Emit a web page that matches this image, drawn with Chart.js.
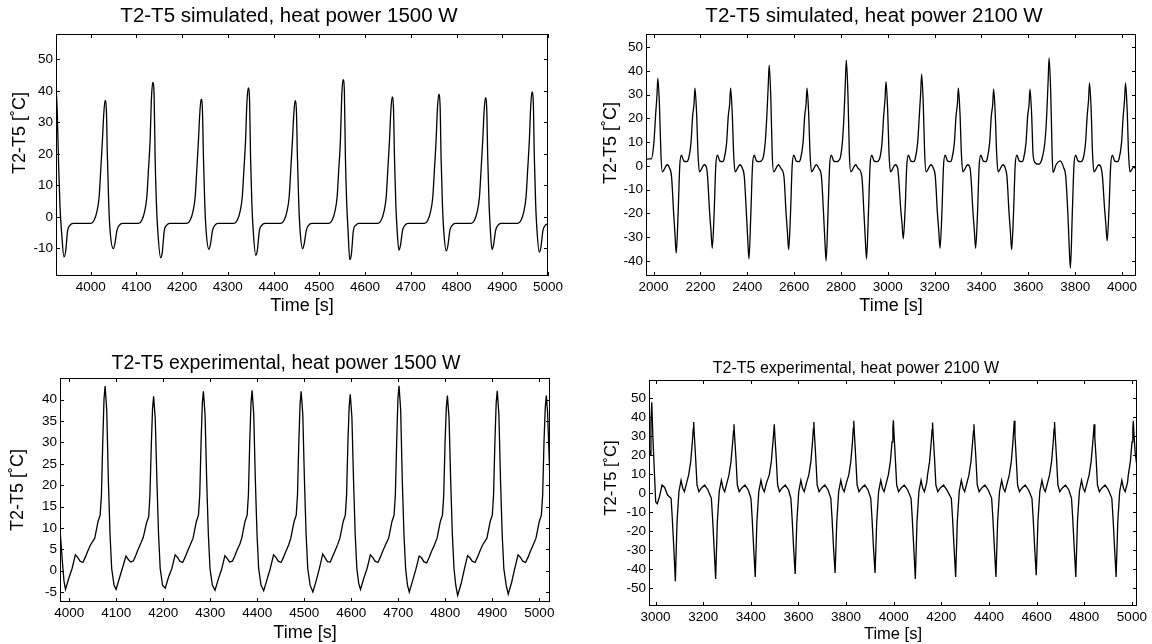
<!DOCTYPE html>
<html>
<head>
<meta charset="utf-8">
<script src="https://cdn.jsdelivr.net/npm/chart.js@4/dist/chart.umd.min.js"></script>
<style>
  html, body { margin: 0; padding: 0; background: #fff; overflow: hidden; }
  body { width: 1152px; height: 644px; position: relative; }
  canvas { position: absolute; }
</style>
</head>
<body>
<canvas id="simLow" width="578" height="322" style="left:0;top:0"></canvas>
<canvas id="simHigh" width="596" height="322" style="left:576px;top:0"></canvas>
<canvas id="expLow" width="572" height="322" style="left:0;top:322px"></canvas>
<canvas id="expHigh" width="594" height="322" style="left:559px;top:322px"></canvas>
<script>
// --- values (time in s, T2-T5 in °C) ---
var simTime1500 = [
  3924.2, 3927, 3930, 3933, 3936.5, 3941.7, 3945.2, 3949.7, 3954.7, 3961.7,
  4000.5, 4007.5, 4013.5, 4018.5, 4022.0, 4025.7, 4028.6, 4031.5, 4034.4, 4036.6, 4039.5, 4042.4, 4049.5, 4053.0, 4057.5, 4062.5, 4069.5,
  4104.8, 4111.8, 4117.8, 4122.8, 4126.3, 4130.0, 4132.9, 4135.8, 4138.7, 4140.9, 4143.8, 4146.7, 4153.0, 4156.5, 4161.0, 4166.0, 4173.0,
  4210.5, 4217.5, 4223.5, 4228.5, 4232.0, 4235.7, 4238.6, 4241.5, 4244.4, 4246.6, 4249.5, 4252.4, 4258.5, 4262.0, 4266.5, 4271.5, 4278.5,
  4313.5, 4320.5, 4326.5, 4331.5, 4335.0, 4338.7, 4341.6, 4344.5, 4347.4, 4349.6, 4352.5, 4355.4, 4361.0, 4364.5, 4369.0, 4374.0, 4381.0,
  4416.0, 4423.0, 4429.0, 4434.0, 4437.5, 4441.2, 4444.1, 4447.0, 4449.9, 4452.1, 4455.0, 4457.9, 4463.5, 4467.0, 4471.5, 4476.5, 4483.5,
  4520.9, 4527.9, 4533.9, 4538.9, 4542.4, 4546.1, 4549.0, 4551.9, 4554.8, 4557.0, 4559.9, 4562.8, 4566.5, 4570.0, 4574.5, 4579.5, 4586.5,
  4628.2, 4635.2, 4641.2, 4646.2, 4649.7, 4653.4, 4656.3, 4659.2, 4662.1, 4664.3, 4667.2, 4670.1, 4674.0, 4677.5, 4682.0, 4687.0, 4694.0,
  4730.1, 4737.1, 4743.1, 4748.1, 4751.6, 4755.3, 4758.2, 4761.1, 4764.0, 4766.2, 4769.1, 4772.0, 4777.5, 4781.0, 4785.5, 4790.5, 4797.5,
  4832.1, 4839.1, 4845.1, 4850.1, 4853.6, 4857.3, 4860.2, 4863.1, 4866.0, 4868.2, 4871.1, 4874.0, 4877.5, 4881.0, 4885.5, 4890.5, 4897.5,
  4934.0, 4941.0, 4947.0, 4952.0, 4955.5, 4959.2, 4962.1, 4965.0, 4967.9, 4970.1, 4973.0, 4975.9, 4981.0, 4984.5, 4989.0, 4994.0, 5000.0
];
var simTemp1500 = [
  41.8, 33, 16, 3, -5, -12.7, -11.1, -4.3, -2.7, -2.1,
  -2.1, -1.1, 1.6, 6.3, 14.8, 24.3, 32.6, 37.0, 33.7, 19, 4.2, -4.3, -10.1, -8.5, -4.3, -2.7, -2.1,
  -2.1, -1.1, 1.6, 6.3, 14.8, 24.3, 37.6, 42.7, 38.9, 19, 4.2, -4.3, -13.0, -11.4, -4.3, -2.7, -2.1,
  -2.1, -1.1, 1.6, 6.3, 14.8, 24.3, 32.9, 37.4, 34.0, 19, 4.2, -4.3, -10.3, -8.7, -4.3, -2.7, -2.1,
  -2.1, -1.1, 1.6, 6.3, 14.8, 24.3, 36.1, 41.0, 37.3, 19, 4.2, -4.3, -12.2, -10.6, -4.3, -2.7, -2.1,
  -2.1, -1.1, 1.6, 6.3, 14.8, 24.3, 32.5, 36.9, 33.6, 19, 4.2, -4.3, -10.1, -8.5, -4.3, -2.7, -2.1,
  -2.1, -1.1, 1.6, 6.3, 14.8, 24.3, 38.4, 43.6, 39.7, 19, 4.2, -4.3, -13.6, -12.0, -4.3, -2.7, -2.1,
  -2.1, -1.1, 1.6, 6.3, 14.8, 24.3, 33.5, 38.1, 34.7, 19, 4.2, -4.3, -10.6, -9.0, -4.3, -2.7, -2.1,
  -2.1, -1.1, 1.6, 6.3, 14.8, 24.3, 34.3, 39.0, 35.5, 19, 4.2, -4.3, -10.8, -9.2, -4.3, -2.7, -2.1,
  -2.1, -1.1, 1.6, 6.3, 14.8, 24.3, 33.4, 37.9, 34.5, 19, 4.2, -4.3, -10.4, -8.8, -4.3, -2.7, -2.1,
  -2.1, -1.1, 1.6, 6.3, 14.8, 24.3, 34.9, 39.7, 36.1, 19, 4.2, -4.3, -11.2, -9.6, -4.3, -2.7, -2.2
];

var simTime2100 = [
  1967.5, 1982, 1990.2, 2001.2, 2008.2, 2014.2, 2018.2,
  2025.2, 2031.2, 2037.2, 2058.2, 2068.2, 2076.6, 2085.6, 2091.6, 2096.6, 2104.6, 2111.6, 2118.6, 2129.6, 2140.6, 2148.6, 2159.6, 2166.6, 2172.6, 2176.6,
  2183.6, 2189.6, 2195.6, 2216.6, 2226.6, 2230.4, 2239.4, 2245.4, 2250.4, 2258.4, 2265.4, 2272.4, 2283.4, 2294.4, 2300.8, 2311.8, 2318.8, 2324.8, 2328.8,
  2335.8, 2341.8, 2347.8, 2368.8, 2378.8, 2387.2, 2396.2, 2402.2, 2407.2, 2415.2, 2422.2, 2429.2, 2440.2, 2451.2, 2465.5, 2476.5, 2483.5, 2489.5, 2493.5,
  2500.5, 2506.5, 2512.5, 2533.5, 2543.5, 2556.6, 2565.6, 2571.6, 2576.6, 2584.6, 2591.6, 2598.6, 2609.6, 2620.6, 2627.1, 2638.1, 2645.1, 2651.1, 2655.1,
  2662.1, 2668.1, 2674.1, 2695.1, 2705.1, 2716.6, 2725.6, 2731.6, 2736.6, 2744.6, 2751.6, 2758.6, 2769.6, 2780.6, 2794.9, 2805.9, 2812.9, 2818.9, 2822.9,
  2829.9, 2835.9, 2841.9, 2862.9, 2872.9, 2889.2, 2898.2, 2904.2, 2909.2, 2917.2, 2924.2, 2931.2, 2942.2, 2953.2, 2964.3, 2975.3, 2982.3, 2988.3, 2992.3,
  2999.3, 3005.3, 3011.3, 3032.3, 3042.3, 3046.0, 3055.0, 3061.0, 3066.0, 3074.0, 3081.0, 3088.0, 3099.0, 3110.0, 3116.5, 3127.5, 3134.5, 3140.5, 3144.5,
  3151.5, 3157.5, 3163.5, 3184.5, 3194.5, 3202.9, 3211.9, 3217.9, 3222.9, 3230.9, 3237.9, 3244.9, 3255.9, 3266.9, 3273.3, 3284.3, 3291.3, 3297.3, 3301.3,
  3308.3, 3314.3, 3320.3, 3341.3, 3351.3, 3355.0, 3364.0, 3370.0, 3375.0, 3383.0, 3390.0, 3397.0, 3408.0, 3419.0, 3423.9, 3434.9, 3441.9, 3447.9, 3451.9,
  3458.9, 3464.9, 3470.9, 3491.9, 3501.9, 3508.8, 3517.8, 3523.8, 3528.8, 3536.8, 3543.8, 3550.8, 3561.8, 3572.8, 3579.2, 3590.2, 3597.2, 3603.2, 3607.2,
  3614.2, 3620.2, 3628.0, 3643.6, 3657.8, 3671.8, 3678.8, 3684.8, 3688.8,
  3695.8, 3701.8, 3705.3, 3719.5, 3736.6, 3750.8, 3759.8, 3768.8, 3774.8, 3779.8, 3787.8, 3794.8, 3801.8, 3812.8, 3823.8, 3833.3, 3844.3, 3851.3, 3857.3, 3861.3,
  3868.3, 3874.3, 3880.3, 3901.3, 3911.3, 3916.6, 3925.6, 3931.6, 3936.6, 3944.6, 3951.6, 3958.6, 3969.6, 3980.6, 3987.1, 3998.1, 4005.1, 4011.1, 4015.1,
  4022.1, 4028.1, 4034.1, 4050, 4059.8
];
var simTemp2100 = [
  2.8, 3.0, 3.0, 9.8, 21, 29.6, 37.0,
  24.8, 5, -2.5, 0.5, -1, -4.5, -20, -29.4, -36.8, -20, 0, 4.5, 2, 1.8, 2.8, 9.8, 21, 26.2, 32.8,
  22, 5, -2.5, 0.5, -1, -4.5, -20, -27.8, -34.7, -20, 0, 4.5, 2, 1.8, 2.8, 9.8, 21, 26.2, 32.8,
  22, 5, -2.5, 0.5, -1, -4.5, -20, -31.4, -39.2, -20, 0, 4.5, 2, 1.8, 2.8, 9.8, 21, 34, 42.5,
  28.5, 5, -2.5, 0.5, -1, -4.5, -20, -28.2, -35.3, -20, 0, 4.5, 2, 1.8, 2.8, 9.8, 21, 26.2, 32.8,
  22, 5, -2.5, 0.5, -1, -4.5, -20, -32, -40, -20, 0, 4.5, 2, 1.8, 2.8, 9.8, 21, 35.7, 44.6,
  29.9, 5, -2.5, 0.5, -1, -4.5, -20, -31.4, -39.2, -20, 0, 4.5, 2, 1.8, 2.8, 9.8, 21, 28.4, 35.5,
  23.8, 5, -2.5, 0.5, -1, -4.5, -18, -24.6, -30.7, -18, 0, 4.5, 2, 1.8, 2.8, 9.8, 21, 31, 38.7,
  25.9, 5, -2.5, 0.5, -1, -4.5, -20, -27.8, -34.7, -20, 0, 4.5, 2, 1.8, 2.8, 9.8, 21, 26.2, 32.8,
  22, 5, -2.5, 0.5, -1, -4.5, -20, -27.8, -34.7, -20, 0, 4.5, 2, 1.8, 2.8, 9.8, 21, 25.9, 32.4,
  21.7, 5, -2.5, 0.5, -1, -4.5, -20, -28.2, -35.3, -20, 0, 4.5, 2, 1.8, 2.8, 9.8, 21, 25.9, 32.4,
  21.7, 5, 1.5, 0.7, 2.8, 11, 22, 36.4, 45.5,
  30.5, 5, -2.8, 0.7, 2.1, -0.7, -4.5, -20, -34.5, -43.1, -20, 0, 4.5, 2, 1.8, 2.8, 9.8, 21, 28, 35.0,
  23.5, 5, -2.5, 0.5, -1, -4.5, -18, -25.3, -31.6, -18, 0, 4.5, 2, 1.8, 2.8, 9.8, 21, 28, 35.0,
  23.5, 5, -2.5, -0.5, -1.2
];

var expTime1500 = [
  3980.5, 3983, 3986, 3989, 3992.2,
  3999.2, 4006.2, 4013.2, 4018.2, 4023.2, 4029.2, 4034.2, 4039.2, 4045.2, 4054.4, 4061.4, 4065.9, 4068.6, 4071.4, 4074.1, 4076.4, 4079.9, 4083.4, 4086.9, 4090.4, 4095.4, 4099.8,
  4106.8, 4113.8, 4120.8, 4125.8, 4130.8, 4136.8, 4141.8, 4146.8, 4152.8, 4157.6, 4164.6, 4169.1, 4171.8, 4174.6, 4177.3, 4179.6, 4183.1, 4186.6, 4190.1, 4193.6, 4198.6, 4204.4,
  4211.4, 4218.4, 4225.4, 4230.4, 4235.4, 4241.4, 4246.4, 4251.4, 4257.4, 4263.5, 4270.5, 4275.0, 4277.7, 4280.5, 4283.2, 4285.5, 4289.0, 4292.5, 4296.0, 4299.5, 4304.5, 4310.2,
  4317.2, 4324.2, 4331.2, 4336.2, 4341.2, 4347.2, 4352.2, 4357.2, 4363.2, 4367.0, 4374.0, 4378.5, 4381.2, 4384.0, 4386.7, 4389.0, 4392.5, 4396.0, 4399.5, 4403.0, 4408.0, 4413.7,
  4420.7, 4427.7, 4434.7, 4439.7, 4444.7, 4450.7, 4455.7, 4460.7, 4466.7, 4471.4, 4478.4, 4482.9, 4485.6, 4488.4, 4491.1, 4493.4, 4496.9, 4500.4, 4503.9, 4507.4, 4512.4, 4518.3,
  4525.3, 4532.3, 4539.3, 4544.3, 4549.3, 4555.3, 4560.3, 4565.3, 4571.3, 4575.8, 4582.8, 4587.3, 4590.0, 4592.8, 4595.5, 4597.8, 4601.3, 4604.8, 4608.3, 4611.8, 4615.8, 4619.6,
  4626.6, 4633.6, 4640.6, 4645.6, 4650.6, 4656.6, 4661.6, 4666.6, 4672.6, 4679.5, 4686.5, 4691.0, 4693.7, 4696.5, 4699.2, 4701.5, 4705.0, 4708.5, 4712.0, 4715.5, 4719.5, 4723.3,
  4730.3, 4737.3, 4744.3, 4749.3, 4754.3, 4760.3, 4765.3, 4770.3, 4776.3, 4782.4, 4789.4, 4793.9, 4796.6, 4799.4, 4802.1, 4804.4, 4807.9, 4811.4, 4814.9, 4818.4, 4822.4, 4826.2,
  4833.2, 4840.2, 4847.2, 4852.2, 4857.2, 4863.2, 4868.2, 4873.2, 4879.2, 4888.4, 4895.4, 4899.9, 4902.6, 4905.4, 4908.1, 4910.4, 4913.9, 4917.4, 4920.9, 4924.4, 4929.4, 4933.7,
  4940.7, 4947.7, 4954.7, 4959.7, 4964.7, 4970.7, 4975.7, 4980.7, 4986.7, 4992.8, 4999.8, 5004.3, 5007.0, 5009.8, 5012.5, 5014.8, 5017.5, 5020.0, 5022.6
];
var expTemp1500 = [
  9.5, 6, 1.5, -2.5, -4.4,
  -1.8, 0.5, 3.7, 3.1, 2.2, 1.9, 3.1, 4.5, 6.0, 7.6, 11.5, 13, 17.7, 30, 40.2, 43.2, 37.6, 21, 8.5, 0.5, -3.4, -4.4,
  -1.8, 0.8, 3.4, 2.6, 2.0, 2.3, 3.6, 5.0, 6.5, 7.8, 11.2, 12.6, 17.7, 29, 37.9, 40.8, 35.5, 21, 8.5, 0.5, -3.4, -4.1,
  -1.5, 0.5, 3.7, 3.1, 2.2, 1.9, 3.1, 4.5, 6.0, 7.6, 11.5, 13, 17.7, 30, 39.1, 42.0, 36.5, 21, 8.5, 0.5, -3.4, -4.6,
  -2.0, 0.3, 3.5, 2.8, 2.0, 2.2, 3.4, 4.8, 6.3, 7.6, 11.5, 13, 17.7, 30, 39.2, 42.2, 36.7, 21, 8.5, 0.5, -3.4, -4.7,
  -2.1, 0.5, 3.7, 3.1, 2.2, 1.9, 3.1, 4.5, 6.0, 7.6, 11.5, 13, 17.7, 30, 39.1, 42.0, 36.5, 21, 8.5, 0.5, -3.4, -5.0,
  -2.4, 0.6, 3.9, 3.0, 2.1, 2.0, 3.3, 4.6, 6.2, 7.6, 11.5, 13, 17.7, 30, 38.4, 41.3, 35.9, 21, 8.5, 0.5, -3.0, -4.4,
  -1.8, 0.5, 3.7, 3.1, 2.2, 1.9, 3.1, 4.5, 6.0, 7.6, 11.5, 13, 17.7, 30, 40.3, 43.3, 37.7, 21, 8.5, 0.5, -3.4, -5.0,
  -2.4, 0.3, 3.4, 3.0, 2.1, 1.8, 3.0, 4.4, 5.9, 7.6, 11.5, 13, 17.7, 30, 38.1, 41.0, 35.7, 21, 8.5, 0.5, -3.6, -5.8,
  -3.2, 0.2, 3.5, 3.0, 2.2, 1.9, 3.1, 4.5, 6.0, 7.6, 11.5, 13, 17.7, 30, 39.2, 42.1, 36.6, 21, 8.5, 0.5, -3.4, -5.5,
  -2.9, 0.5, 3.7, 3.1, 2.2, 1.9, 3.1, 4.5, 6.0, 7.6, 11.5, 13, 17.7, 30, 38.1, 41.0, 37, 29, 21
];

var expTime2100 = [
  2972.3, 2977, 2980.5, 2984, 2988.5, 2994.5, 3000.5, 3007, 3016, 3027, 3038, 3050, 3065, 3070, 3077, 3083.0,
  3090.0, 3098.0, 3107.0, 3114.0, 3121.0, 3131.0, 3138.9, 3147.4, 3154.4, 3157.9, 3159.9, 3162.9, 3167.9, 3173.9, 3181.9, 3191.9, 3205.9, 3219.9, 3234.2, 3239.2, 3246.2, 3252.2,
  3259.2, 3267.2, 3276.2, 3283.2, 3290.2, 3300.2, 3308.2, 3316.7, 3323.7, 3327.2, 3329.2, 3332.2, 3337.2, 3343.2, 3351.2, 3361.2, 3375.2, 3389.2, 3400.4, 3405.4, 3412.4, 3418.4,
  3425.4, 3433.4, 3442.4, 3449.4, 3456.4, 3466.4, 3477.4, 3485.9, 3492.9, 3496.4, 3498.4, 3501.4, 3506.4, 3512.4, 3520.4, 3530.4, 3544.4, 3558.4, 3568.1, 3573.1, 3580.1, 3586.1,
  3593.1, 3601.1, 3610.1, 3617.1, 3624.1, 3634.1, 3643.5, 3652.0, 3659.0, 3662.5, 3664.5, 3667.5, 3672.5, 3678.5, 3686.5, 3696.5, 3710.5, 3724.5, 3735.8, 3740.8, 3747.8, 3753.8,
  3760.8, 3768.8, 3777.8, 3784.8, 3791.8, 3801.8, 3811.2, 3819.7, 3826.7, 3830.2, 3832.2, 3835.2, 3840.2, 3846.2, 3854.2, 3864.2, 3878.2, 3892.2, 3903.5, 3908.5, 3915.5, 3921.5,
  3928.5, 3936.5, 3945.5, 3952.5, 3959.5, 3969.5, 3977.4, 3985.9, 3992.9, 3996.4, 3998.4, 4001.4, 4006.4, 4012.4, 4020.4, 4030.4, 4044.4, 4058.4, 4072.7, 4077.7, 4084.7, 4090.7,
  4097.7, 4105.7, 4114.7, 4121.7, 4128.7, 4138.7, 4142.0, 4150.5, 4157.5, 4161.0, 4163.0, 4166.0, 4171.0, 4177.0, 4185.0, 4195.0, 4209.0, 4223.0, 4241.9, 4246.9, 4253.9, 4259.9,
  4266.9, 4274.9, 4283.9, 4290.9, 4297.9, 4307.9, 4315.8, 4324.3, 4331.3, 4334.8, 4336.8, 4339.8, 4344.8, 4350.8, 4358.8, 4368.8, 4382.8, 4396.8, 4411.2, 4416.2, 4423.2, 4429.2,
  4436.2, 4444.2, 4453.2, 4460.2, 4467.2, 4477.2, 4485.1, 4493.6, 4500.6, 4504.1, 4506.1, 4509.1, 4514.1, 4520.1, 4528.1, 4538.1, 4552.1, 4566.1, 4580.4, 4585.4, 4592.4, 4598.4,
  4605.4, 4613.4, 4622.4, 4629.4, 4636.4, 4646.4, 4654.3, 4662.8, 4669.8, 4673.3, 4675.3, 4678.3, 4683.3, 4689.3, 4697.3, 4707.3, 4721.3, 4735.3, 4746.5, 4751.5, 4758.5, 4764.5,
  4771.5, 4779.5, 4788.5, 4795.5, 4802.5, 4812.5, 4820.5, 4829.0, 4836.0, 4839.5, 4841.5, 4844.5, 4849.5, 4855.5, 4863.5, 4873.5, 4887.5, 4901.5, 4915.8, 4920.8, 4927.8, 4933.8,
  4940.8, 4948.8, 4957.8, 4964.8, 4971.8, 4981.8, 4985.1, 4993.6, 5000.6, 5004.1, 5006.1, 5009.1, 5014.1, 5021.5
];
var expTemp2100 = [
  24.7, 20, 38, 47.9, 30, 12.3, -4.6, -5.5, -2, 4.3, 3, -1, -2.7, -13, -30, -46.4,
  -15, 0.8, 6.8, 2.6, 0.8, 5.7, 9.6, 16.6, 27, 33.8, 37.5, 30, 19, 4.3, 0.8, 2.6, 4.3, 1.7, -2.7, -13, -30, -45.2,
  -15, 0.8, 6.8, 2.6, 0.8, 5.7, 9.6, 16.6, 27, 32.7, 36.3, 29, 19, 4.3, 0.8, 2.6, 4.3, 1.7, -2.7, -13, -30, -44.1,
  -15, 0.8, 6.8, 2.6, 0.8, 5.7, 9.6, 16.6, 27, 32.7, 36.3, 29, 19, 4.3, 0.8, 2.6, 4.3, 1.7, -2.7, -13, -30, -42.5,
  -15, 0.8, 6.8, 2.6, 0.8, 5.7, 9.6, 16.6, 27, 33.8, 37.5, 30, 19, 4.3, 0.8, 2.6, 4.3, 1.7, -2.7, -13, -30, -42,
  -15, 0.8, 6.8, 2.6, 0.8, 5.7, 9.6, 16.6, 27, 34.3, 38.1, 30.5, 19, 4.3, 0.8, 2.6, 4.3, 1.7, -2.7, -13, -30, -42,
  -15, 0.8, 6.8, 2.6, 0.8, 5.7, 9.6, 16.6, 27, 34.6, 38.4, 30.7, 19, 4.3, 0.8, 2.6, 4.3, 1.7, -2.7, -13, -30, -45.2,
  -15, 0.8, 6.8, 2.6, 0.8, 5.7, 9.6, 16.6, 27, 33.5, 37.2, 29.8, 19, 4.3, 0.8, 2.6, 4.3, 1.7, -2.7, -13, -30, -44.1,
  -15, 0.8, 6.8, 2.6, 0.8, 5.7, 9.6, 16.6, 27, 32.7, 36.3, 29, 19, 4.3, 0.8, 2.6, 4.3, 1.7, -2.7, -13, -30, -44.1,
  -15, 0.8, 6.8, 2.6, 0.8, 5.7, 9.6, 16.6, 27, 34.3, 38.1, 30.5, 19, 4.3, 0.8, 2.6, 4.3, 1.7, -2.7, -13, -30, -43.2,
  -15, 0.8, 6.8, 2.6, 0.8, 5.7, 9.6, 16.6, 27, 33.8, 37.5, 30, 19, 4.3, 0.8, 2.6, 4.3, 1.7, -2.7, -13, -30, -44.1,
  -15, 0.8, 6.8, 2.6, 0.8, 5.7, 9.6, 16.6, 27, 32.7, 36.3, 29, 19, 4.3, 0.8, 2.6, 4.3, 1.7, -2.7, -13, -30, -44.1,
  -15, 0.8, 6.8, 2.6, 0.8, 5.7, 9.6, 16.6, 27, 34.3, 38.1, 30.5, 21, 14
];

// tick values shown on the axes
var xTicksLow = [4000, 4100, 4200, 4300, 4400, 4500, 4600, 4700, 4800, 4900, 5000];
var xTicksSimHigh = [2000, 2200, 2400, 2600, 2800, 3000, 3200, 3400, 3600, 3800, 4000];
var xTicksExpHigh = [3000, 3200, 3400, 3600, 3800, 4000, 4200, 4400, 4600, 4800, 5000];
var yTicksSimLow = [-10, 0, 10, 20, 30, 40, 50];
var yTicksSimHigh = [-40, -30, -20, -10, 0, 10, 20, 30, 40, 50];
var yTicksExpLow = [-5, 0, 5, 10, 15, 20, 25, 30, 35, 40];
var yTicksExpHigh = [-50, -40, -30, -20, -10, 0, 10, 20, 30, 40, 50];

var FONT = "'Liberation Sans', Arial, Helvetica, sans-serif";
Chart.defaults.font.family = FONT;
Chart.defaults.color = '#000';

// box around the plot with inward ticks on all four sides, plus the y label
var frameTicks = {
  id: 'frameTicks',
  afterDatasetsDraw: function (chart, args, o) {
    var ctx = chart.ctx, a = chart.chartArea, x = chart.scales.x, y = chart.scales.y;
    ctx.save();
    ctx.strokeStyle = '#000';
    ctx.lineWidth = 1;
    ctx.strokeRect(a.left + 0.5, a.top + 0.5, a.right - a.left - 1, a.bottom - a.top - 1);
    ctx.beginPath();
    x.ticks.forEach(function (t) {
      var px = Math.round(x.getPixelForValue(t.value)) + 0.5;
      ctx.moveTo(px, a.top); ctx.lineTo(px, a.top + 4);
      ctx.moveTo(px, a.bottom); ctx.lineTo(px, a.bottom - 4);
    });
    y.ticks.forEach(function (t) {
      var py = Math.round(y.getPixelForValue(t.value)) + 0.5;
      ctx.moveTo(a.left, py); ctx.lineTo(a.left + 4, py);
      ctx.moveTo(a.right, py); ctx.lineTo(a.right - 4, py);
    });
    ctx.stroke();
    ctx.translate(o.labelX, o.labelY);
    ctx.rotate(-Math.PI / 2);
    ctx.font = o.labelSize + 'px ' + FONT;
    ctx.fillStyle = '#000';
    ctx.textAlign = 'center';
    ctx.textBaseline = 'middle';
    ctx.fillText(o.label, 0, 0);
    ctx.restore();
  }
};

function panel(id, p) {
  var pts = p.t.map(function (t, i) { return { x: t, y: p.v[i] }; });
  new Chart(document.getElementById(id), {
    type: 'line',
    data: {
      datasets: [{
        data: pts,
        borderColor: '#000',
        borderWidth: 1.3,
        pointRadius: 0,
        fill: false,
        tension: p.smooth ? 0.4 : 0,
        cubicInterpolationMode: p.smooth ? 'monotone' : 'default'
      }]
    },
    options: {
      responsive: false,
      animation: false,
      events: [],
      layout: { padding: 0 },
      plugins: {
        legend: { display: false },
        tooltip: { enabled: false },
        title: {
          display: true,
          text: p.title,
          font: { size: p.titleSize, weight: 'normal' },
          padding: { top: p.titleTop, bottom: p.titleBottom }
        },
        frameTicks: { label: 'T2-T5 [˚C]', labelX: p.labelX, labelY: p.labelY, labelSize: p.labelSize }
      },
      scales: {
        x: {
          type: 'linear',
          min: p.xMin, max: p.xMax,
          grid: { display: false, drawTicks: false },
          border: { display: false },
          afterBuildTicks: function (s) { s.ticks = p.xTicks.map(function (v) { return { value: v }; }); },
          afterFit: function (s) { s.height = p.xAxisH; },
          ticks: { autoSkip: false, maxRotation: 0, padding: 3, font: { size: 13.5 }, callback: function (v) { return String(v); } },
          title: { display: true, text: 'Time [s]', font: { size: p.labelSize }, padding: { top: 0, bottom: p.xTitleBottom } }
        },
        y: {
          type: 'linear',
          min: p.yMin, max: p.yMax,
          grid: { display: false, drawTicks: false },
          border: { display: false },
          afterBuildTicks: function (s) { s.ticks = p.yTicks.map(function (v) { return { value: v }; }); },
          afterFit: function (s) { s.width = p.yAxisW; },
          ticks: { autoSkip: false, padding: 3, font: { size: 13.5 }, callback: function (v) { return String(v); } }
        },
        // empty right-hand axis: only reserves the margin right of the box
        yRight: {
          position: 'right',
          grid: { display: false, drawTicks: false },
          border: { display: false },
          ticks: { display: false },
          afterFit: function (s) { s.width = p.padRight; }
        }
      }
    },
    plugins: [frameTicks]
  });
}

panel('simLow', {
  t: simTime1500, v: simTemp1500, smooth: true,
  title: 'T2-T5 simulated, heat power 1500 W', titleSize: 20.5, titleTop: 3.6, titleBottom: 5.8,
  xMin: 3924.2, xMax: 5000, yMin: -18.8, yMax: 58.1, xTicks: xTicksLow, yTicks: yTicksSimLow,
  padRight: 30, yAxisW: 56, xAxisH: 46, xTitleBottom: 5.2, labelSize: 18, labelX: 20, labelY: 133
});
panel('simHigh', {
  t: simTime2100, v: simTemp2100, smooth: true,
  title: 'T2-T5 simulated, heat power 2100 W', titleSize: 20.5, titleTop: 3.6, titleBottom: 5.8,
  xMin: 1967.5, xMax: 4059.8, yMin: -46.4, yMax: 55.6, xTicks: xTicksSimHigh, yTicks: yTicksSimHigh,
  padRight: 36, yAxisW: 70, xAxisH: 46, xTitleBottom: 5.2, labelSize: 18, labelX: 35, labelY: 143
});
panel('expLow', {
  t: expTime1500, v: expTemp1500, smooth: false,
  title: 'T2-T5 experimental, heat power 1500 W', titleSize: 19.5, titleTop: 30, titleBottom: 2.6,
  xMin: 3980.5, xMax: 5022.6, yMin: -7.35, yMax: 45.1, xTicks: xTicksLow, yTicks: yTicksExpLow,
  padRight: 22, yAxisW: 60, xAxisH: 42, xTitleBottom: 0, labelSize: 18, labelX: 18, labelY: 168
});
panel('expHigh', {
  t: expTime2100, v: expTemp2100, smooth: false,
  title: 'T2-T5 experimental, heat power 2100 W', titleSize: 16, titleTop: 37.4, titleBottom: 1.4,
  xMin: 2972.3, xMax: 5021.5, yMin: -59.4, yMax: 59.6, xTicks: xTicksExpHigh, yTicks: yTicksExpHigh,
  padRight: 16, yAxisW: 90, xAxisH: 38, xTitleBottom: 0, labelSize: 16.5, labelX: 52, labelY: 156
});
</script>
</body>
</html>
